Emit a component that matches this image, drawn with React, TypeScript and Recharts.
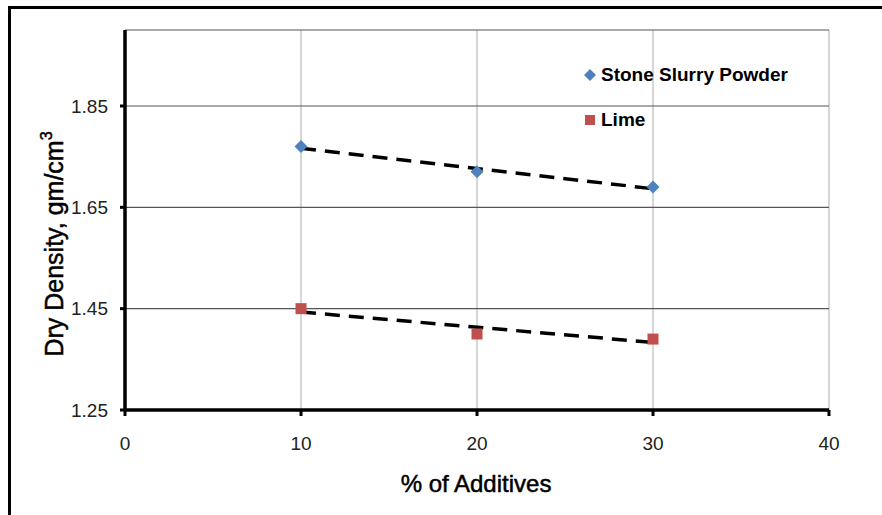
import { ScatterChart, Scatter, XAxis, YAxis, CartesianGrid, Legend } from 'recharts';

const additives = [10, 20, 30];
const stoneSlurry = [1.77, 1.72, 1.69];
const lime = [1.45, 1.4, 1.39];
const xTicks = [0, 10, 20, 30, 40];
const yTicks = [1.25, 1.45, 1.65, 1.85];

const stoneData = additives.map((x, i) => ({ x, y: stoneSlurry[i] }));
const limeData = additives.map((x, i) => ({ x, y: lime[i] }));

const FONT = '"Liberation Sans", Arial, sans-serif';
const BLUE = '#4F81BD';
const RED = '#C0504D';

const trendLine = { stroke: '#000', strokeWidth: 3.5, strokeDasharray: '15 9' };

function Diamond(props: any) {
  const { cx, cy } = props;
  const r = 6.5;
  return <polygon points={`${cx},${cy - r} ${cx + r},${cy} ${cx},${cy + r} ${cx - r},${cy}`} fill={BLUE} />;
}

function Square(props: any) {
  const { cx, cy } = props;
  const s = 11;
  return <rect x={cx - s / 2} y={cy - s / 2} width={s} height={s} fill={RED} />;
}

function LegendBox() {
  const item = { display: 'flex', alignItems: 'center', height: 20, fontFamily: FONT, fontWeight: 700, fontSize: 19, color: '#000' };
  return (
    <div>
      <div style={item}>
        <svg width={16} height={14} style={{ marginRight: 2 }}>
          <polygon points="7,1 13,7 7,13 1,7" fill={BLUE} />
        </svg>
        Stone Slurry Powder
      </div>
      <div style={{ ...item, marginTop: 25 }}>
        <svg width={16} height={14} style={{ marginRight: 2 }}>
          <rect x={2} y={2} width={10} height={10} fill={RED} />
        </svg>
        Lime
      </div>
    </div>
  );
}

export default function App() {
  return (
    <div style={{ position: 'absolute', left: 0, top: 0, width: 882, height: 515, background: '#fff', overflow: 'hidden' }}>
      <div style={{ position: 'absolute', left: 8, top: 6, width: 880, height: 520, borderTop: '3px solid #000', borderLeft: '3px solid #000' }} />
      <div style={{ position: 'absolute', left: 0, top: 0 }}>
        <ScatterChart width={882} height={515} margin={{ top: 30, right: 53, bottom: 75, left: 65 }}>
          <CartesianGrid horizontal={false} vertical={true} stroke="#bbb" strokeWidth={1.2} />
          <CartesianGrid horizontal={true} vertical={false} stroke="#555" strokeWidth={1.2} />
          <XAxis
            type="number"
            dataKey="x"
            domain={[0, 40]}
            ticks={xTicks}
            height={30}
            axisLine={{ stroke: '#000', strokeWidth: 3.5 }}
            tickLine={{ stroke: '#000', strokeWidth: 3 }}
            tickSize={6}
            tickMargin={21}
            tick={{ fill: '#222', fontSize: 19, fontFamily: FONT }}
          />
          <YAxis
            type="number"
            dataKey="y"
            domain={[1.25, 2.0]}
            ticks={yTicks}
            width={60}
            allowDataOverflow
            axisLine={{ stroke: '#000', strokeWidth: 3.5 }}
            tickLine={{ stroke: '#000', strokeWidth: 3 }}
            tickSize={5}
            tickMargin={12}
            tickFormatter={(v: number) => v.toFixed(2)}
            tick={{ fill: '#222', fontSize: 19, fontFamily: FONT }}
          />
          <Legend
            layout="vertical"
            align="center"
            verticalAlign="middle"
            content={() => <LegendBox />}
            wrapperStyle={{ left: 583, top: 65, width: 260 }}
          />
          <Scatter
            name="Stone Slurry Powder"
            data={stoneData}
            fill={BLUE}
            line={trendLine}
            lineType="fitting"
            shape={(p: any) => <Diamond {...p} />}
            isAnimationActive={false}
          />
          <Scatter
            name="Lime"
            data={limeData}
            fill={RED}
            line={trendLine}
            lineType="fitting"
            shape={(p: any) => <Square {...p} />}
            isAnimationActive={false}
          />
        </ScatterChart>
      </div>
      <div
        style={{
          position: 'absolute',
          left: 54,
          top: 244,
          transform: 'translate(-50%, -50%) rotate(-90deg)',
          whiteSpace: 'nowrap',
          fontFamily: FONT,
          fontSize: 25,
          lineHeight: '25px',
          color: '#000',
          WebkitTextStroke: '0.5px #000',
        }}
      >
        Dry Density, gm/cm<sup style={{ fontSize: 16, verticalAlign: 'top', lineHeight: '16px', position: 'relative', top: -3 }}>3</sup>
      </div>
      <div
        style={{
          position: 'absolute',
          left: 476,
          top: 484,
          transform: 'translate(-50%, -50%)',
          whiteSpace: 'nowrap',
          fontFamily: FONT,
          fontSize: 24,
          lineHeight: '24px',
          color: '#000',
          WebkitTextStroke: '0.5px #000',
        }}
      >
        % of Additives
      </div>
    </div>
  );
}
